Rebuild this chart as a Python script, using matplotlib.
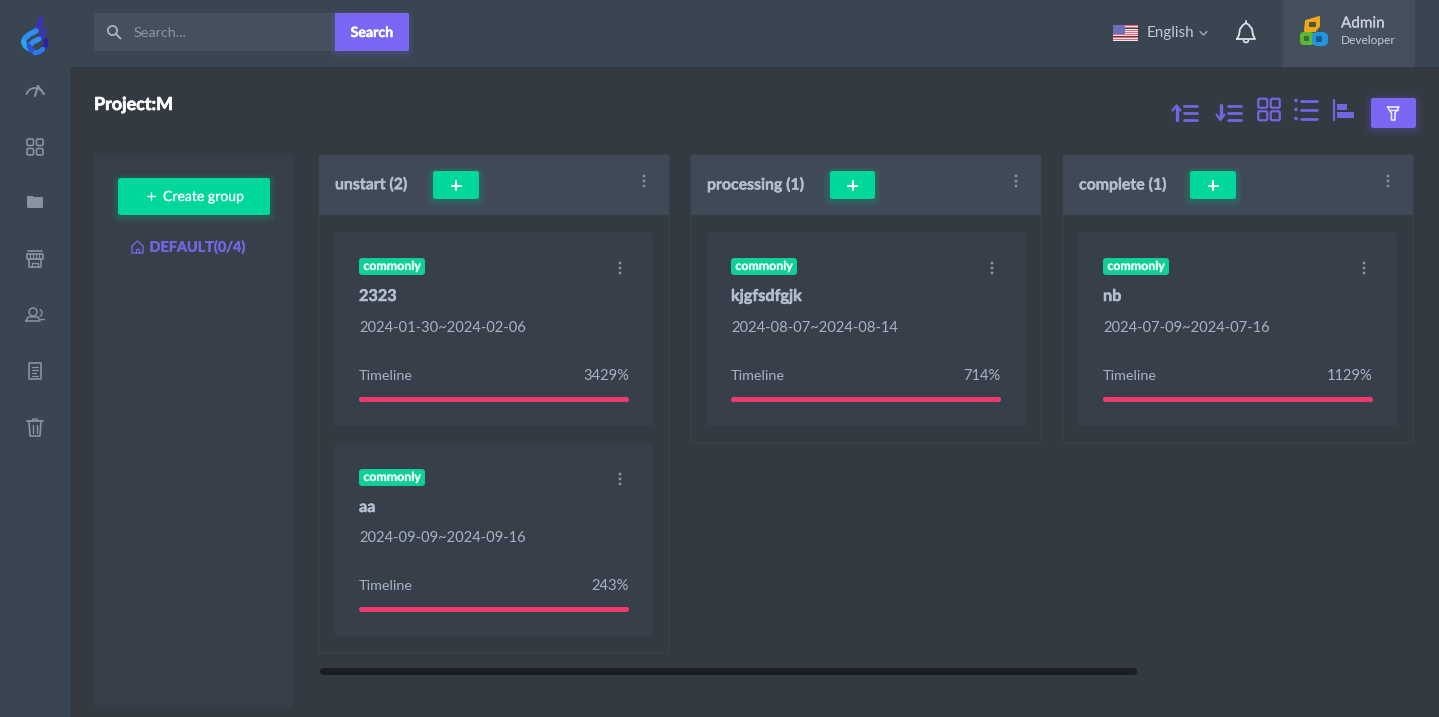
import numpy as np
import matplotlib
matplotlib.use("Agg")
import matplotlib.pyplot as plt
import matplotlib.patheffects as pe
from matplotlib.patches import FancyBboxPatch, Rectangle, Circle, Polygon, Arc

# ---- content ----
project_title = "Project:M"
search_placeholder = "Search..."
search_button = "Search"
language = "English"
user_name = "Admin"
user_role = "Developer"
group_button = "Create group"
group_label = "DEFAULT(0/4)"
tag_label = "commonly"
timeline_label = "Timeline"
column_titles = ["unstart (2)", "processing (1)", "complete (1)"]
column_cards = [[0, 1], [2], [3]]
card_names = ["2323", "aa", "kjgfsdfgjk", "nb"]
card_dates = ["2024-01-30~2024-02-06", "2024-09-09~2024-09-16",
              "2024-08-07~2024-08-14", "2024-07-09~2024-07-16"]
card_percents = ["3429%", "243%", "714%", "1129%"]

# ---- palette ----
BG = "#343a42"; BAR = "#3a4552"; PANEL = "#37404a"; HEAD = "#404a57"
INPUT = "#464f5c"; PURPLE = "#7a68f5"; ICON_P = "#7465e0"; GREEN = "#00d89b"; PINK = "#f03a6e"
TXT = "#b4bdce"; ICON = "#8792a3"; WHITE = "#ffffff"; LINE = "#3c444e"
FONT = "Lato"

fig = plt.figure(figsize=(14.39, 7.17), dpi=100, facecolor=BG)
ax = fig.add_axes([0, 0, 1, 1])
ax.set_xlim(0, 1439); ax.set_ylim(717, 0); ax.axis("off")


def rr(x0, y0, x1, y1, fc, r=3, ec="none", lw=0, z=1, alpha=None):
    p = FancyBboxPatch((x0, y0), x1 - x0, y1 - y0, boxstyle=f"round,pad=0,rounding_size={r}",
                       fc=fc, ec=ec, lw=lw, zorder=z, alpha=alpha)
    ax.add_patch(p)
    return p


def glow(x0, y0, x1, y1, c, z=2, n=5, spread=6, dy=2):
    for i in range(n, 0, -1):
        d = spread * i / n
        rr(x0 - d, y0 - d + dy, x1 + d, y1 + d + dy, c, r=3 + d, z=z, alpha=0.04)


def T(x, y, s, size=10, c=TXT, w="normal", ha="left", z=8, heavy=0):
    t = ax.text(x, y + 1, s, fontsize=size, color=c, fontweight=w, ha=ha, va="center",
                family=FONT, zorder=z)
    if heavy:
        t.set_path_effects([pe.withStroke(linewidth=heavy, foreground=c)])


def L(xs, ys, c=ICON, lw=1.2, z=7):
    ax.plot(xs, ys, color=c, lw=lw, solid_capstyle="round", solid_joinstyle="round", zorder=z)


def open_rect(x0, y0, x1, y1, c, lw=1.2, r=1.5, z=7):
    rr(x0, y0, x1, y1, "none", r=r, ec=c, lw=lw, z=z)


def grid_icon(cx, cy, s, gap, c, lw=1.2):
    for dx in (-1, 1):
        for dy in (-1, 1):
            xa = cx + dx * (gap / 2 + s / 2); ya = cy + dy * (gap / 2 + s / 2)
            open_rect(xa - s / 2, ya - s / 2, xa + s / 2, ya + s / 2, c, lw)


def dots(x, y, c="#8a94a4"):
    for d in (-5, 0, 5):
        ax.add_patch(Circle((x, y + d), 1.4, fc=c, ec="none", zorder=7))


# ---- chrome ----
ax.add_patch(Rectangle((0, 0), 1439, 67, fc=BAR, ec="none", zorder=1))
ax.add_patch(Rectangle((0, 0), 70, 717, fc=BAR, ec="none", zorder=1))

# logo: three ribbon strokes
L([41, 39.5, 36], [19, 25, 31], "#3a2fc8", 3.6, 5)
L([36, 30, 25, 23.5], [31, 34, 38, 42], "#2f8cf0", 4, 5)
L([23.5, 25, 29], [42, 46, 49], "#29a6ee", 3.6, 5)
L([44, 43, 39], [30, 35, 39], "#3a2fc8", 3.4, 6)
L([39, 33, 29], [39, 42, 46], "#2f8cf0", 3.8, 6)
L([29, 31, 35], [46, 50, 52], "#2a55d8", 3.6, 6)
L([46, 46, 43], [40, 45, 49], "#2a1fa8", 3.2, 6)
L([43, 39, 35], [49, 52, 53], "#2a7fe8", 3.4, 6)

# sidebar icons
ax.add_patch(Arc((35, 97), 18, 18, theta1=195, theta2=345, ec=ICON, lw=1.3, zorder=7))
L([35, 38], [96, 86], lw=1.5); L([38, 44], [86, 94], lw=1.3)
grid_icon(35, 147, 6.5, 3, ICON)
rr(27, 197, 43, 208, ICON, r=1.5, z=7)
ax.add_patch(Polygon([(27, 199), (27, 196), (33, 196), (35, 199)], closed=True, fc=ICON, ec="none", zorder=7))
# store
L([28, 42], [251, 251]); open_rect(27, 254, 43, 259, ICON, r=.5); open_rect(29, 259, 41, 267, ICON, r=.5)
L([32, 32, 38, 38], [267, 263, 263, 267], lw=1)
for xx in (30, 33, 36, 39):
    L([xx, xx], [254, 258], lw=.8)
# user
ax.add_patch(Circle((33, 312), 4, fc="none", ec=ICON, lw=1.1, zorder=7))
L([26, 28, 38, 40, 26], [321, 317, 317, 321, 321], lw=1.1)
ax.add_patch(Arc((39, 313), 6, 7, theta1=-80, theta2=80, ec=ICON, lw=1, zorder=7))
L([40, 44], [319, 319], lw=1)
# doc
open_rect(29, 363, 41, 379, ICON, r=.5)
for yy, xe in [(367, 38), (370, 38), (373, 36), (376, 38)]:
    L([32, xe], [yy, yy], lw=.9)
# trash
L([27, 43], [421, 421], lw=1.3); L([32, 33, 37, 38], [421, 419, 419, 421], lw=1)
L([29, 30, 40, 41], [421, 436, 436, 421], lw=1.2)
for xx in (33, 37):
    L([xx, xx], [425, 433], lw=1)

# search
rr(94, 13, 340, 51, INPUT, r=3, z=2)
glow(335, 13, 409, 51, PURPLE, z=2, spread=5)
rr(335, 13, 409, 51, PURPLE, r=2, z=3)
ax.add_patch(Rectangle((335, 13), 6, 38, fc=PURPLE, ec="none", zorder=3))
ax.add_patch(Circle((112.5, 30.5), 4.6, fc="none", ec="#a9b3c3", lw=1.3, zorder=7))
L([116, 120.5], [34, 38.5], c="#a9b3c3", lw=1.4)
T(134, 32, search_placeholder, 10.4, "#8d96a6")
T(372, 32, search_button, 10.2, WHITE, "bold", ha="center", heavy=.3)

# language, flag
for i in range(7):
    ax.add_patch(Rectangle((1113, 25 + i * 2.3), 25, 1.2, fc="#e8647a", ec="none", zorder=5))
    ax.add_patch(Rectangle((1113, 26.2 + i * 2.3), 25, 1.1, fc="#f2e6ea", ec="none", zorder=5))
ax.add_patch(Rectangle((1113, 25), 12, 9, fc="#6f6fb8", ec="none", zorder=6))
T(1147, 32, language, 10.9, "#c3cad6")
L([1200, 1203.5, 1207], [31.5, 35, 31.5], c="#aab3c2", lw=.9)
# bell
bx = np.array([1237, 1239, 1240, 1243, 1246, 1249, 1252, 1253, 1255, 1237])
by = np.array([39, 35, 29, 25, 23, 25, 29, 35, 39, 39])
L(bx, by, c="#dfe3ea", lw=1.3)
L([1246, 1246], [21, 23], c="#dfe3ea", lw=1.3)
ax.add_patch(Arc((1246, 40), 5, 5, theta1=0, theta2=180, ec="#dfe3ea", lw=1.2, zorder=7))

# admin box
ax.add_patch(Rectangle((1283, 0), 132, 67, fc=INPUT, ec="none", zorder=2))
ax.add_patch(Polygon([(1306, 21), (1319, 17), (1319, 26), (1315, 31), (1305, 31)], closed=True,
                     fc="#eba919", ec="#eba919", lw=1.5, joinstyle="round", zorder=5))
rr(1300, 32, 1314, 45, "#5cb82e", r=4, z=5)
rr(1312, 32, 1328, 46, "#1e96e0", r=5.5, z=5)
rr(1309, 22, 1316, 27, "#55503a", r=1, z=6)
rr(1304, 36, 1309, 41, "#3c6b3c", r=1, z=6)
rr(1316, 36, 1322, 42, "#1c5c8c", r=1, z=6)
T(1341, 22.5, user_name, 11, "#c8ced9", heavy=.2)
T(1341, 39.5, user_role, 8.6, "#c3cad6")

# title & toolbar
T(94, 103.5, project_title, 12.9, WHITE, "bold", heavy=.5)
# sort asc
L([1176.5, 1176.5], [108, 120], ICON_P, 2.4); L([1172.5, 1176.5, 1180.5], [110.5, 105.5, 110.5], ICON_P, 1.6)
for yy in (106, 113, 120):
    L([1184, 1197], [yy, yy], ICON_P, 2)
# sort desc
L([1220.5, 1220.5], [105, 117], ICON_P, 2.4); L([1216.5, 1220.5, 1224.5], [114.5, 120, 114.5], ICON_P, 1.6)
for yy in (106, 113, 120):
    L([1228, 1241], [yy, yy], ICON_P, 2)
grid_icon(1269, 109.5, 9, 3.5, ICON_P, 1.6)
for yy in (100.5, 109.5, 118.5):
    ax.add_patch(Circle((1296, yy), 1.8, fc=ICON_P, ec="none", zorder=7))
    L([1301, 1317], [yy, yy], ICON_P, 2)
L([1333.5, 1333.5], [100, 120], ICON_P, 1.6)
ax.add_patch(Rectangle((1337, 104), 10, 5.5, fc=ICON_P, ec="none", zorder=7))
ax.add_patch(Rectangle((1337, 112), 16.5, 6, fc=ICON_P, ec="none", zorder=7))
glow(1371, 98, 1416, 128, PURPLE)
rr(1371, 98, 1416, 128, PURPLE, r=2.5, z=3)
L([1387.5, 1399, 1395, 1395, 1391.5, 1391.5, 1387.5], [107, 107, 113, 120, 120, 113, 107], "#f2f0ff", 1.1)
L([1389, 1398], [110, 110], "#f2f0ff", 1)

# left panel
rr(94, 155, 294, 707, PANEL, r=3, z=1)
glow(118, 178, 270, 215, GREEN)
rr(118, 178, 270, 215, GREEN, r=2.5, z=3)
L([147, 155], [196, 196], "#eafff8", 1); L([151, 151], [192, 200], "#eafff8", 1)
T(163, 196, group_button, 10.1, "#eafff8", heavy=.2)
# home icon
L([132, 137.5, 143, 143, 132, 132], [246, 241, 246, 253, 253, 246], ICON_P, 1)
L([136, 136, 139, 139], [253, 248.5, 248.5, 253], ICON_P, .9)
T(149.5, 246.5, group_label, 10.4, ICON_P, "bold", heavy=.3)

# columns
col_x = [319, 691, 1063]
col_bottom = [653, 443, 443]
add_btn = [(433, 479), (830, 875), (1190, 1236)]
for k, title in enumerate(column_titles):
    x = col_x[k]
    rr(x, 155, x + 350, col_bottom[k], "none", r=2, ec=LINE, lw=.8, z=1)
    ax.add_patch(Rectangle((x, 155), 350, 60, fc=HEAD, ec="none", zorder=2))
    T(x + 16, 184, title, 11.4, TXT, "bold", heavy=.3)
    a, b = add_btn[k]
    glow(a, 171, b, 199, GREEN)
    rr(a, 171, b, 199, GREEN, r=2.5, z=3)
    mx = (a + b) / 2
    L([mx - 4.5, mx + 4.5], [185.5, 185.5], WHITE, 1.5); L([mx, mx], [181, 190], WHITE, 1.5)
    dots(x + 325, 181, "#8590a0")
    for row, c in enumerate(column_cards[k]):
        oy = 0 if row == 0 else 211
        oy2 = oy - (1 if row else 0)
        cx = x + 16
        rr(cx, 232 + oy, cx + 318, 426 + oy2, PANEL, r=3, z=2)
        rr(cx + 24, 258 + oy, cx + 90, 275 + oy, "#0fcf97", r=3, z=4)
        T(cx + 57, 265.5 + oy, tag_label, 8.9, "#e8fff8", "bold", ha="center", heavy=.2)
        dots(cx + 285, 268 + oy)
        T(cx + 24, 296 + oy, card_names[c], 11.7, TXT, "bold", heavy=.35)
        T(cx + 24, 327 + oy2, card_dates[c], 10.65, "#a9b2c3")
        T(cx + 24, 374.5 + oy2, timeline_label, 10.4, "#a9b2c3")
        T(cx + 294, 374.5 + oy2, card_percents[c], 10.6, "#a9b2c3", ha="right")
        rr(cx + 24, 397 + oy2, cx + 294, 402 + oy2, PINK, r=2.5, z=4)

# horizontal scrollbar
rr(320, 668, 1137, 675, "#1b1e23", r=3.5, z=4)

fig.savefig("out.png", dpi=100, facecolor=BG)
